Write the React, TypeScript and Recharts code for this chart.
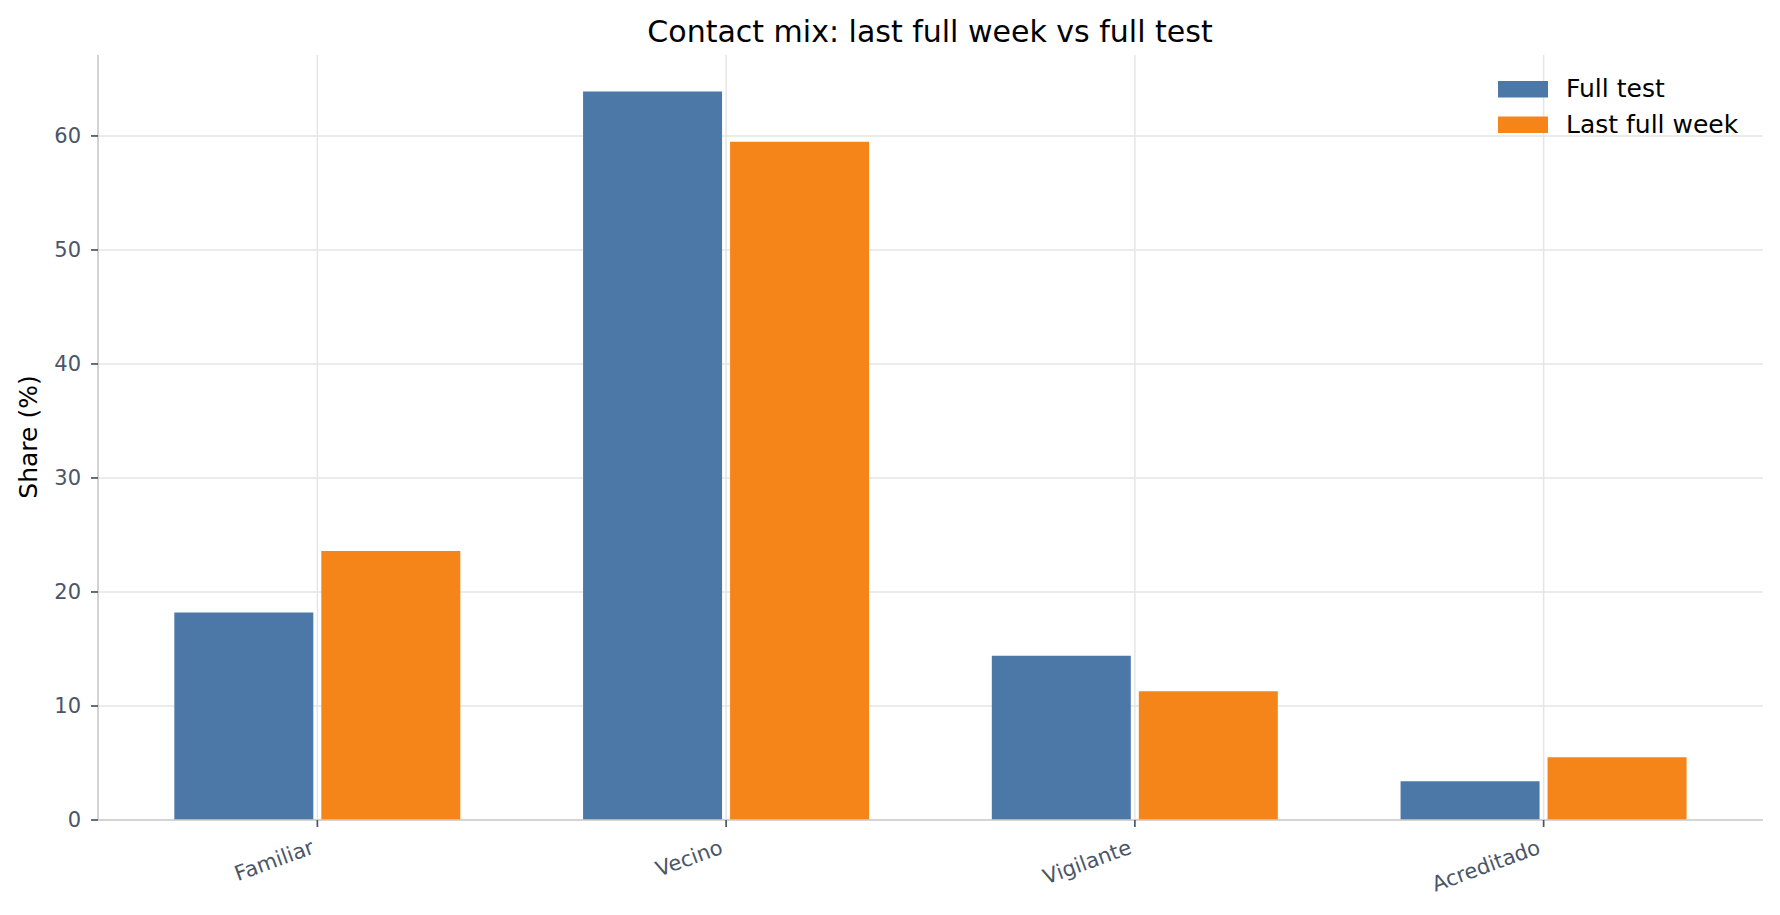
import React from 'react';
import { BarChart, Bar, XAxis, YAxis, CartesianGrid, Legend } from 'recharts';

const categories = ['Familiar', 'Vecino', 'Vigilante', 'Acreditado'];
const fullTest = [18.2, 63.9, 14.4, 3.4];
const lastFullWeek = [23.6, 59.5, 11.3, 5.5];
const seriesKeys = ['full', 'last'];
const seriesNames = ['Full test', 'Last full week'];
const seriesColors = ['#4C78A8', '#F58518'];
const yTicks = [0, 10, 20, 30, 40, 50, 60];
const yMax = 67.1;
const titleText = 'Contact mix: last full week vs full test';
const yLabelText = 'Share (%)';

const data = categories.map((c, i) => ({ category: c, full: fullTest[i], last: lastFullWeek[i] }));

const FONT = "'DejaVu Sans', sans-serif";
const TICK_COLOR = '#4a5568';
const W = 1780;
const H = 915;

const XTick = (props: any) => {
  const { x, y, payload } = props;
  return (
    <g transform={`translate(${x - 2},${y + 26})`}>
      <text
        x={0}
        y={0}
        transform="rotate(-20)"
        textAnchor="end"
        fill={TICK_COLOR}
        fontSize={21}
        fontFamily={FONT}
      >
        {payload.value}
      </text>
    </g>
  );
};

const LegendContent = () => (
  <svg width={290} height={80} style={{ display: 'block' }}>
    {seriesNames.map((name, i) => (
      <g key={name}>
        <rect x={8} y={11 + i * 35.5} width={50} height={16.5} fill={seriesColors[i]} />
        <text x={76} y={27 + i * 36} fontSize={25} fontFamily={FONT} fill="#000">
          {name}
        </text>
      </g>
    ))}
  </svg>
);

export default function App() {
  return (
    <div style={{ position: 'absolute', left: 0, top: 0, width: W, height: H, background: '#fff' }}>
      <BarChart
        width={W}
        height={H}
        data={data}
        margin={{ top: 55, right: 17, bottom: 0, left: 0 }}
        barCategoryGap="15%"
        barGap={8}
      >
        <CartesianGrid stroke="#e5e5e5" strokeWidth={1.5} vertical={true} horizontal={true} syncWithTicks={true} />
        <XAxis
          dataKey="category"
          height={95}
          interval={0}
          padding={{ left: 15, right: 15 }}
          axisLine={{ stroke: '#cccccc', strokeWidth: 1.7 }}
          tickLine={{ stroke: TICK_COLOR, strokeWidth: 1.7 }}
          tickSize={7}
          tickMargin={0}
          tick={<XTick />}
        />
        <YAxis
          width={98}
          domain={[0, yMax]}
          ticks={yTicks}
          allowDataOverflow={true}
          axisLine={{ stroke: '#cccccc', strokeWidth: 1.7 }}
          tickLine={{ stroke: TICK_COLOR, strokeWidth: 1.7 }}
          tickSize={7}
          tickMargin={10}
          tick={{ fill: TICK_COLOR, fontSize: 21, fontFamily: FONT }}
        />
        <Legend
          layout="vertical"
          align="center"
          verticalAlign="middle"
          wrapperStyle={{ position: 'absolute', left: 1490, top: 70, width: 290, height: 80 }}
          content={<LegendContent />}
        />
        {seriesKeys.map((k, i) => (
          <Bar key={k} dataKey={k} name={seriesNames[i]} fill={seriesColors[i]} isAnimationActive={false} />
        ))}
      </BarChart>
      <svg
        width={W}
        height={H}
        style={{ position: 'absolute', left: 0, top: 0, pointerEvents: 'none' }}
      >
        <text x={930} y={42} textAnchor="middle" fontSize={30} fontFamily={FONT} fill="#000">
          {titleText}
        </text>
        <text
          x={37}
          y={437}
          transform="rotate(-90 37 437)"
          textAnchor="middle"
          fontSize={25}
          fontFamily={FONT}
          fill="#000"
        >
          {yLabelText}
        </text>
      </svg>
    </div>
  );
}
